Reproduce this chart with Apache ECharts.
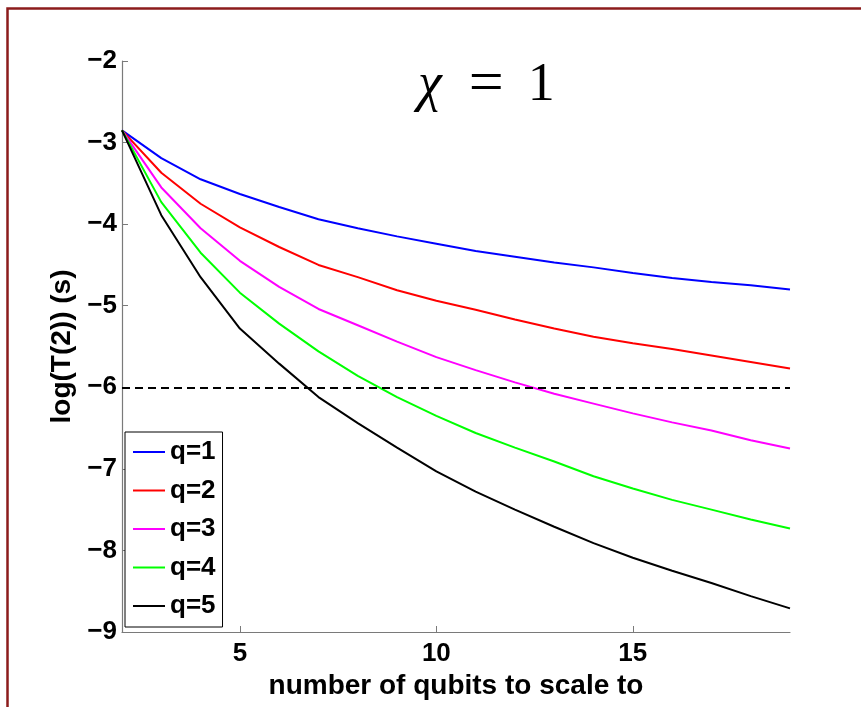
<!DOCTYPE html>
<html>
<head>
<meta charset="utf-8">
<title>log(T(2)) vs number of qubits</title>
<script src="https://cdn.jsdelivr.net/npm/echarts@6/dist/echarts.min.js"></script>
<style>
  html, body { margin: 0; padding: 0; background: #fff; }
  #chart { width: 861px; height: 707px; }
</style>
</head>
<body>
<div id="chart"></div>
<script>
// qubit counts on the x axis
const qubits = [2, 3, 4, 5, 6, 7, 8, 9, 10, 11, 12, 13, 14, 15, 16, 17, 18, 19];

// log(T(2)) per q
const q1 = [-2.85, -3.19, -3.45, -3.63, -3.79, -3.94, -4.05, -4.15, -4.24, -4.33, -4.40, -4.47, -4.53, -4.60, -4.66, -4.71, -4.75, -4.80];
const q2 = [-2.85, -3.37, -3.75, -4.04, -4.28, -4.50, -4.65, -4.81, -4.94, -5.05, -5.17, -5.28, -5.38, -5.46, -5.53, -5.61, -5.69, -5.77];
const q3 = [-2.85, -3.55, -4.05, -4.45, -4.77, -5.04, -5.24, -5.44, -5.63, -5.79, -5.94, -6.08, -6.20, -6.32, -6.43, -6.53, -6.65, -6.75];
const q4 = [-2.85, -3.73, -4.35, -4.84, -5.22, -5.56, -5.86, -6.12, -6.35, -6.56, -6.74, -6.91, -7.09, -7.24, -7.38, -7.50, -7.62, -7.73];
const q5 = [-2.85, -3.89, -4.65, -5.28, -5.71, -6.12, -6.44, -6.74, -7.03, -7.28, -7.50, -7.71, -7.91, -8.09, -8.25, -8.40, -8.56, -8.71];

const seriesNames = ["q=1", "q=2", "q=3", "q=4", "q=5"];
const seriesValues = [q1, q2, q3, q4, q5];
const seriesColors = ["#0000ff", "#ff0000", "#ff00ff", "#00ff00", "#000000"];

// dashed reference level
const thresholdLevel = -6;

// tick labels
const xTicks = [5, 10, 15];
const yTicks = [-9, -8, -7, -6, -5, -4, -3, -2];

const axisGrey = "#7a7a7a";
const sansFont = '"Liberation Sans", Arial, Helvetica, sans-serif';
const serifFont = '"Liberation Serif", "DejaVu Serif", serif';

const chart = echarts.init(document.getElementById("chart"), null, { renderer: "canvas" });

const series = seriesNames.map((name, i) => {
  const s = {
    name: name,
    type: "line",
    data: qubits.map((x, j) => [x, seriesValues[i][j]]),
    showSymbol: false,
    symbol: "none",
    lineStyle: { color: seriesColors[i], width: 2 },
    itemStyle: { color: seriesColors[i] },
    z: 3,
  };
  // dashed level rides on the last series
  if (i === seriesNames.length - 1) {
    s.markLine = {
      silent: true,
      symbol: ["none", "none"],
      label: { show: false },
      lineStyle: { color: "#000", type: [8, 5], width: 2 },
      data: [{ yAxis: thresholdLevel }],
    };
  }
  return s;
});

const options = {
  animation: false,
  backgroundColor: "#fff",
  title: {
    text: "{i|χ}{e|=}{o|1}",
    left: 418,
    top: 55,
    padding: 0,
    textStyle: {
      fontWeight: "normal",
      rich: {
        i: { fontFamily: serifFont, fontStyle: "italic", fontWeight: "normal", fontSize: 54, color: "#000" },
        e: { fontFamily: serifFont, fontWeight: "normal", fontSize: 62, color: "#000", padding: [0, 0, 0, 27] },
        o: { fontFamily: serifFont, fontWeight: "normal", fontSize: 54, color: "#000", padding: [0, 0, 0, 24] },
      },
    },
  },
  graphic: [
    {
      type: "rect",
      silent: true,
      z: 100,
      shape: { x: 7.5, y: 8.5, width: 900, height: 800 },
      style: { fill: "none", stroke: "#8c1c1c", lineWidth: 2.5 },
    },
  ],
  grid: {
    left: 122,
    top: 61,
    width: 668,
    height: 571,
    containLabel: false,
  },
  legend: {
    orient: "vertical",
    left: 125,
    top: 432,
    padding: [7, 7, 8, 8],
    itemGap: 12.5,
    itemWidth: 32,
    itemHeight: 2,
    icon: "rect",
    backgroundColor: "#fff",
    borderColor: "#000",
    borderWidth: 1,
    borderRadius: 0,
    data: seriesNames,
    textStyle: { fontFamily: sansFont, fontWeight: "bold", fontSize: 26, color: "#000" },
  },
  xAxis: {
    type: "value",
    min: 2,
    max: 19,
    name: "number of qubits to scale to",
    nameLocation: "middle",
    nameGap: 36,
    nameTextStyle: { fontFamily: sansFont, fontWeight: "bold", fontSize: 28, color: "#000" },
    axisLine: { show: true, lineStyle: { color: axisGrey, width: 1.2 } },
    axisTick: { show: true, inside: true, length: 6, customValues: xTicks, lineStyle: { color: axisGrey, width: 1 } },
    axisLabel: {
      customValues: xTicks,
      margin: 9,
      fontFamily: sansFont,
      fontWeight: "bold",
      fontSize: 26,
      color: "#000",
    },
    splitLine: { show: false },
  },
  yAxis: {
    type: "value",
    min: -9,
    max: -2,
    interval: 1,
    name: "log(T(2)) (s)",
    nameLocation: "middle",
    nameGap: 42,
    nameTextStyle: { fontFamily: sansFont, fontWeight: "bold", fontSize: 28, color: "#000" },
    axisLine: { show: true, lineStyle: { color: axisGrey, width: 1.2 } },
    axisTick: { show: true, inside: true, length: 6, customValues: yTicks, lineStyle: { color: axisGrey, width: 1 } },
    axisLabel: {
      customValues: yTicks,
      margin: 5,
      fontFamily: sansFont,
      fontWeight: "bold",
      fontSize: 26,
      color: "#000",
      formatter: (v) => String(v).replace("-", "\u2212"),
    },
    splitLine: { show: false },
  },
  series: series,
};

chart.setOption(options);

window.addEventListener("resize", () => {
  chart.resize();
});
</script>
</body>
</html>
